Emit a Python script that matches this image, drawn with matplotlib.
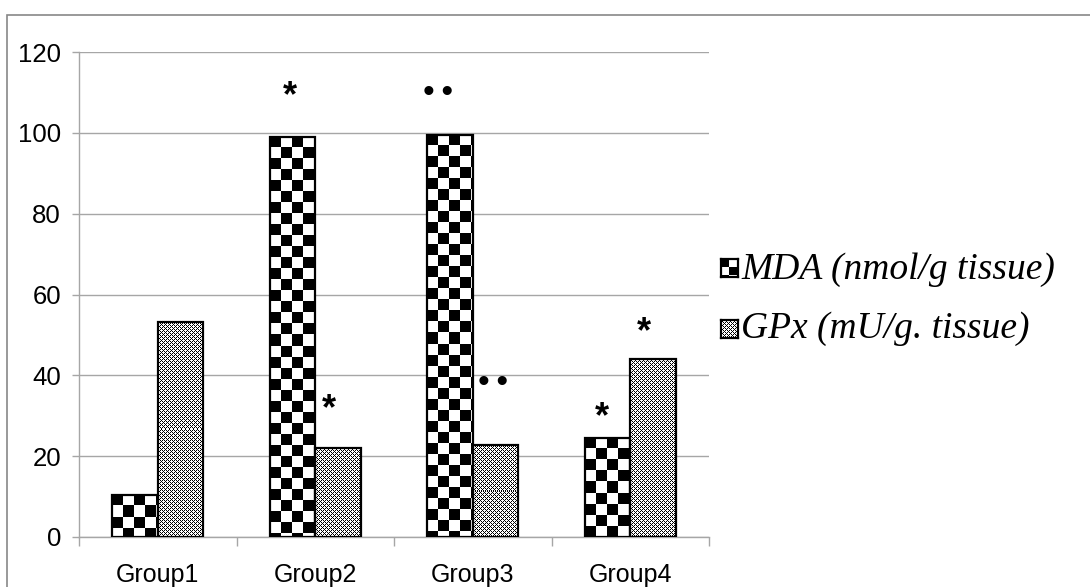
import numpy as np
import matplotlib
matplotlib.use('Agg')
import matplotlib.pyplot as plt
from matplotlib.patches import Rectangle

groups = ['Group1', 'Group2', 'Group3', 'Group4']
mda = [10.5, 99.0, 99.5, 24.5]
gpx = [53.3, 22.0, 22.8, 44.0]
series_names = ['MDA (nmol/g tissue)', 'GPx (mU/g. tissue)']

# significance marks: (x position in category units, y value, label)
sig_x = [0.84, 1.087, 1.78, 2.13, 2.82, 3.09]
sig_y = [110.5, 33.0, 109.7, 38.0, 31.0, 52.0]
sig_lab = ['*', '*', '••', '••', '*', '*']

GRID = '#a6a6a6'
W = 0.29


def checker(h, w, size):
    r = np.arange(h)[:, None] // size
    c = np.arange(w)[None, :] // size
    return ((r + c) % 2 == 1).astype(float)


def fine(h, w):
    # small cross pattern, 0 = black
    tile = np.array([[0, 1, 0, 1],
                     [1, 0, 1, 1],
                     [0, 1, 0, 1],
                     [1, 1, 1, 0]], dtype=float)
    reps = (h // 4 + 1, w // 4 + 1)
    return np.tile(tile, reps)[:h, :w]


fig = plt.figure(figsize=(10.9, 5.87), dpi=100)
ax = fig.add_axes([79 / 1090, 1 - 537 / 587, 630 / 1090, 485 / 587])

x = np.arange(len(groups))
b1 = ax.bar(x - W / 2, mda, W, facecolor='none', edgecolor='black', linewidth=1.6, zorder=4)
b2 = ax.bar(x + W / 2, gpx, W, facecolor='none', edgecolor='black', linewidth=1.6, zorder=4)

ax.set_xlim(-0.5, 3.5)
ax.set_ylim(0, 120)
ax.set_yticks(range(0, 121, 20))
ax.set_xticks(x)
ax.set_xticklabels(groups)
ax.set_xticks(np.arange(-0.5, 3.6, 1), minor=True)
ax.grid(True, axis='y', color=GRID, linewidth=1.0, zorder=0)
ax.set_axisbelow(True)
for s in ['top', 'right']:
    ax.spines[s].set_visible(False)
for s in ['left', 'bottom']:
    ax.spines[s].set_color(GRID)
    ax.spines[s].set_linewidth(1.0)
ax.tick_params(axis='y', length=5, color=GRID, width=1.0, pad=8, labelsize=18.5)
ax.tick_params(axis='x', which='major', length=0, pad=19, labelsize=18)
ax.tick_params(axis='x', which='minor', length=6.5, color=GRID, width=1.0)
for lab in ax.get_xticklabels() + ax.get_yticklabels():
    lab.set_fontfamily('Liberation Sans')

# pattern fills, pixel aligned
fig.canvas.draw()
rend = fig.canvas.get_renderer()
for bars, kind in [(b1, 'mda'), (b2, 'gpx')]:
    for bar in bars:
        bb = bar.get_window_extent(rend)
        w, h = max(int(round(bb.width)), 1), max(int(round(bb.height)), 1)
        img = checker(h, w, 11) if kind == 'mda' else fine(h, w)
        x0, y0 = bar.get_x(), bar.get_y()
        im = ax.imshow(img, cmap='gray', vmin=0, vmax=1, interpolation='none',
                       extent=(x0, x0 + bar.get_width(), y0, y0 + bar.get_height()),
                       aspect='auto', zorder=3)
        im.set_clip_path(bar)
ax.set_xlim(-0.5, 3.5)
ax.set_ylim(0, 120)

for sx, sy, sl in zip(sig_x, sig_y, sig_lab):
    if sl == '*':
        ax.text(sx, sy - 1.5, sl, ha='center', va='center', fontsize=26, fontweight='bold',
                family='Liberation Sans')
    else:
        ax.text(sx, sy, '\u2022\u2009\u2022', ha='center', va='center', fontsize=24,
                family=['Liberation Sans', 'DejaVu Sans'])

# legend drawn by hand
sw1 = fig.add_axes([721 / 1090, 1 - 277 / 587, 17 / 1090, 18 / 587])
sw1.imshow(checker(18, 17, 8), cmap='gray', vmin=0, vmax=1, interpolation='none', aspect='auto')
sw2 = fig.add_axes([721 / 1090, 1 - 338 / 587, 17 / 1090, 18 / 587])
sw2.imshow(fine(18, 17), cmap='gray', vmin=0, vmax=1, interpolation='none', aspect='auto')
for sw in (sw1, sw2):
    sw.set_xticks([]); sw.set_yticks([])
    for s in sw.spines.values():
        s.set_linewidth(1.6)
fig.text(741 / 1090, 1 - 270 / 587, series_names[0], fontsize=27, style='italic',
         family='Liberation Serif', va='center', ha='left')
fig.text(741 / 1090, 1 - 329 / 587, series_names[1], fontsize=27, style='italic',
         family='Liberation Serif', va='center', ha='left')

# outer chart frame
fig.patches.append(Rectangle((7 / 1090, -0.1), 1.2, 1 - 15 / 587 + 0.1, transform=fig.transFigure,
                             fill=False, edgecolor='#888888', linewidth=1.2))

fig.savefig('out.png', dpi=100)
